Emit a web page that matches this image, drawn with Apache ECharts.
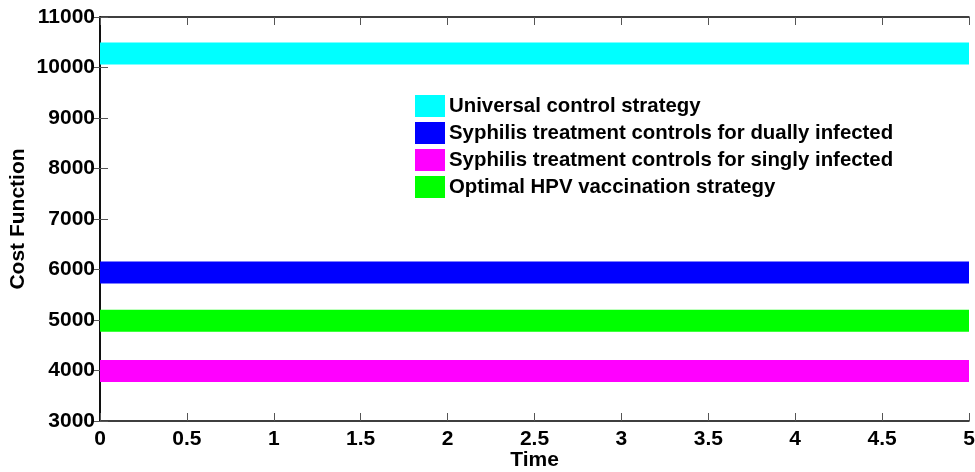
<!DOCTYPE html>
<html>
<head>
	<meta charset="utf-8">
	<title>Cost Function</title>
	<script src="https://cdn.jsdelivr.net/npm/echarts@6/dist/echarts.min.js"></script>
	<style type="text/css">
		body{ margin:0; background:#ffffff; }
		#chart{ width:975px; height:472px; }
	</style>
</head>
<body>
	<div id="chart"></div>
	<script type="text/javascript">
		// values
		var times = [0, 1, 2, 3, 4, 5];
		var xTicks = ['0', '0.5', '1', '1.5', '2', '2.5', '3', '3.5', '4', '4.5', '5'];
		var seriesNames = [
			'Universal control strategy',
			'Syphilis treatment controls for dually infected',
			'Syphilis treatment controls for singly infected',
			'Optimal HPV vaccination strategy'
		];
		var universalCost = [10275, 10275, 10275, 10275, 10275, 10275];
		var duallyCost = [5940, 5940, 5940, 5940, 5940, 5940];
		var singlyCost = [3990, 3990, 3990, 3990, 3990, 3990];
		var hpvCost = [4985, 4985, 4985, 4985, 4985, 4985];
		var colors = ['#00ffff', '#0000ff', '#ff00ff', '#00ff00'];

		var font = '"Liberation Sans", Arial, sans-serif';

		function pairs(vals){
			var out = [];
			for(var i = 0; i < times.length; i++){
				out.push([times[i], vals[i]]);
			}
			return out;
		}

		var allVals = [universalCost, duallyCost, singlyCost, hpvCost];
		var series = [];
		for(var s = 0; s < seriesNames.length; s++){
			series.push({
				name: seriesNames[s],
				type: 'line',
				data: pairs(allVals[s]),
				showSymbol: false,
				symbol: 'none',
				silent: true,
				color: colors[s],
				lineStyle: { width: 22, color: colors[s], cap: 'butt' }
			});
		}

		var myChart = echarts.init(document.getElementById('chart'));
		var option = {
			animation: false,
			backgroundColor: '#ffffff',
			textStyle: { fontFamily: font },
			grid: { left: 100, right: 6, top: 17, bottom: 51, containLabel: false, outerBoundsMode: 'none' },
			legend: {
				orient: 'vertical',
				left: 415,
				top: 95,
				padding: 0,
				itemGap: 5,
				itemWidth: 30,
				itemHeight: 22,
				icon: 'rect',
				itemStyle: { borderWidth: 0 },
				lineStyle: { width: 0 },
				textStyle: { fontSize: 20.4, fontWeight: 'bold', color: '#000', fontFamily: font, padding: [0, 0, 0, -1] },
				data: seriesNames
			},
			xAxis: [
				{
					type: 'value', min: 0, max: 5, interval: 0.5,
					name: 'Time', nameLocation: 'middle', nameGap: 29, nameMoveOverlap: false,
					nameTextStyle: { fontSize: 21, fontWeight: 'bold', color: '#000', fontFamily: font },
					axisLine: { lineStyle: { color: '#000', width: 1.5 } },
					axisTick: { inside: true, length: 8, lineStyle: { color: '#555' } },
					axisLabel: {
						fontSize: 21, fontWeight: 'bold', color: '#000', margin: 8, fontFamily: font,
						formatter: function(v){ return xTicks[Math.round(v * 2)]; }
					},
					splitLine: { show: false }
				},
				{
					type: 'value', min: 0, max: 5, interval: 0.5, position: 'top',
					axisLine: { lineStyle: { color: '#000', width: 1.5 } },
					axisTick: { inside: true, length: 8, lineStyle: { color: '#555' } },
					axisLabel: { show: false },
					splitLine: { show: false }
				}
			],
			yAxis: [
				{
					type: 'value', min: 3000, max: 11000, interval: 1000,
					name: 'Cost Function', nameLocation: 'middle', nameGap: 71, nameMoveOverlap: false,
					nameTextStyle: { fontSize: 21, fontWeight: 'bold', color: '#000', fontFamily: font },
					axisLine: { show: true, lineStyle: { color: '#000', width: 1.5 } },
					axisTick: { show: true, inside: true, length: 8, lineStyle: { color: '#555' } },
					axisLabel: {
						fontSize: 21, fontWeight: 'bold', color: '#000', margin: 5, fontFamily: font,
						formatter: function(v){ return String(v); }
					},
					splitLine: { show: false }
				},
				{
					type: 'value', min: 3000, max: 11000, interval: 1000, position: 'right',
					axisLine: { show: true, lineStyle: { color: '#000', width: 1.5 } },
					axisTick: { show: true, inside: true, length: 8, lineStyle: { color: '#555' } },
					axisLabel: { show: false },
					splitLine: { show: false }
				}
			],
			series: series
		};
		myChart.setOption(option);
	</script>
</body>
</html>
